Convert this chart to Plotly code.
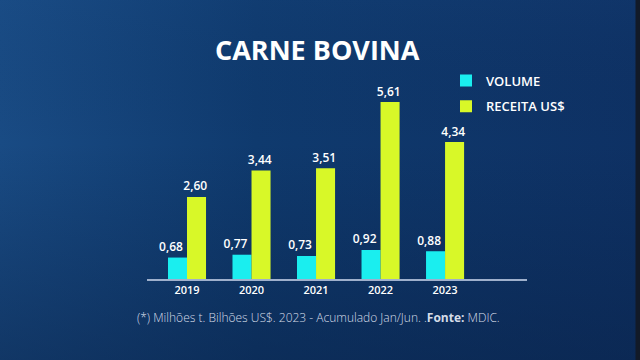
import plotly.graph_objects as go

years = ["2019", "2020", "2021", "2022", "2023"]
volume = [0.68, 0.77, 0.73, 0.92, 0.88]
receita = [2.60, 3.44, 3.51, 5.61, 4.34]

def fmt(v):
    return f"{v:.2f}".replace(".", ",")

FONT = "Open Sans"
W, H = 640, 360
BARGAP = 0.41
idx = list(range(len(years)))
half = (1 - BARGAP) / 4          # centre offset of each bar within its group
vol_lbl_x = [i - half - 0.1 for i in idx]
rec_lbl_x = [i + half - 0.02 for i in idx]

fig = go.Figure()

# background gradient on the base (full-page) subplot x/y
fig.add_trace(go.Scatter(
    x=[0, 1, 1, 0, 0], y=[0, 0, 1, 1, 0], xaxis="x", yaxis="y",
    mode="lines", line=dict(width=0), fill="toself",
    fillgradient=dict(type="horizontal",
                      colorscale=[[0, "#194b84"], [0.4, "#0f3a6e"], [1, "#0e3164"]]),
    hoverinfo="skip", showlegend=False))
fig.add_trace(go.Scatter(
    x=[0, 1, 1, 0, 0], y=[0, 0, 1, 1, 0], xaxis="x", yaxis="y",
    mode="lines", line=dict(width=0), fill="toself",
    fillgradient=dict(type="vertical",
                      colorscale=[[0, "rgba(8,30,65,0.45)"], [0.6, "rgba(8,30,65,0.0)"], [1, "rgba(30,80,140,0.12)"]]),
    hoverinfo="skip", showlegend=False))

fig.add_trace(go.Bar(
    x=idx, y=volume, name="VOLUME", xaxis="x2", yaxis="y2", legendgroup="v",
    marker=dict(color="#1aeeef", line=dict(width=0)),
    customdata=years, hovertemplate="%{customdata}: %{y}<extra>VOLUME</extra>"))
fig.add_trace(go.Bar(
    x=idx, y=receita, name="RECEITA US$", xaxis="x2", yaxis="y2", legendgroup="r",
    marker=dict(color="#d8f828", line=dict(width=0)),
    customdata=years, hovertemplate="%{customdata}: %{y}<extra>RECEITA US$</extra>"))

# value labels
lblfont = dict(family=FONT, size=12, color="white", weight=600)
fig.add_trace(go.Scatter(
    x=vol_lbl_x, y=volume, xaxis="x2", yaxis="y2", mode="markers+text",
    marker=dict(size=4, opacity=0),
    text=[fmt(v) for v in volume], textposition="top center", textfont=lblfont,
    cliponaxis=False, showlegend=False, hoverinfo="skip"))
fig.add_trace(go.Scatter(
    x=rec_lbl_x, y=receita, xaxis="x2", yaxis="y2", mode="markers+text",
    marker=dict(size=4, opacity=0),
    text=[fmt(v) for v in receita], textposition="top center", textfont=lblfont,
    cliponaxis=False, showlegend=False, hoverinfo="skip"))

x0, x1 = 147 / W, 527 / W
y_base, y_top = 279, 80
fig.update_layout(
    width=W, height=H,
    margin=dict(l=0, r=0, t=0, b=0),
    paper_bgcolor="#0e3466", plot_bgcolor="rgba(0,0,0,0)",
    barmode="group", bargap=BARGAP, bargroupgap=0,
    font=dict(family=FONT, color="white"),
    xaxis=dict(domain=[0, 1], range=[0, 1], visible=False, fixedrange=True),
    yaxis=dict(domain=[0, 1], range=[0, 1], visible=False, fixedrange=True),
    xaxis2=dict(domain=[x0, x1], range=[-0.62, 5.27], anchor="y2",
                tickmode="array", tickvals=idx, ticktext=years,
                showline=True, linecolor="#9fb0cc", linewidth=2,
                showgrid=False, zeroline=False, ticks="",
                tickfont=dict(family=FONT, size=11, color="white", weight=600)),
    yaxis2=dict(domain=[1 - y_base / H, 1 - y_top / H], range=[0, (y_base - y_top) / 31.55],
                anchor="x2", visible=False, showgrid=False, zeroline=False),
    legend=dict(x=446 / W, y=1 - 65.5 / H, xanchor="left", yanchor="top",
                bgcolor="rgba(0,0,0,0)", font=dict(family=FONT, size=13, color="white", weight=600),
                traceorder="grouped", tracegroupgap=6),
    showlegend=True,
    shapes=[dict(type="rect", xref="paper", yref="paper", x0=635.5 / W, x1=1, y0=0, y1=1,
                 fillcolor="#121a28", line=dict(width=0), layer="above")],
)

fig.add_annotation(text="<b>CARNE BOVINA</b>", xref="paper", yref="paper",
                   x=317 / W, y=1 - 50 / H, xanchor="center", yanchor="middle", showarrow=False,
                   font=dict(family=FONT, size=27, color="white", weight=800))
fig.add_annotation(text="(*) Milhões t. Bilhões US$. 2023 - Acumulado Jan/Jun. .<b>Fonte:</b> MDIC.",
                   xref="paper", yref="paper", x=318 / W, y=1 - 317 / H,
                   xanchor="center", yanchor="middle", showarrow=False,
                   font=dict(family=FONT, size=12, color="#d5dce8", weight=300))

fig.write_html("out.html", config={"displayModeBar": False},
               post_script="document.body.style.margin='0';")
